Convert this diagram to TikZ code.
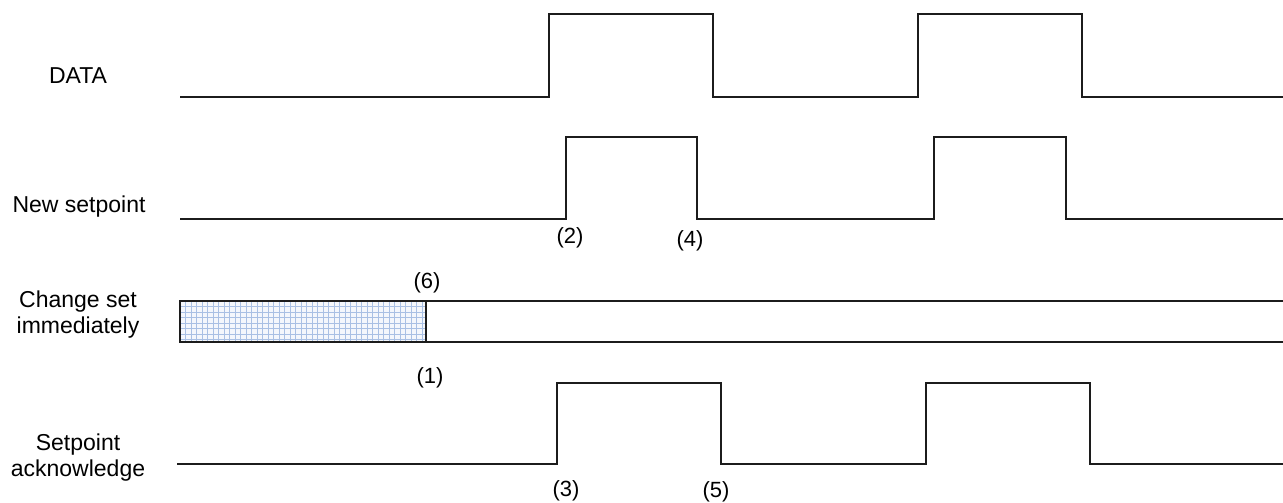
\documentclass[tikz,border=0pt]{standalone}
\usepackage{fontspec}
\setmainfont{Liberation Sans}
\usepackage{xcolor}
\usetikzlibrary{positioning}
\definecolor{traco}{HTML}{1C1C1C}
\definecolor{grelha}{HTML}{A9C0E4}
\definecolor{fundo}{HTML}{F4F7FC}
\tikzset{
  sinal/.style={draw=traco, line width=1.3pt, line join=miter},
  caixa/.style={draw=traco, line width=1.3pt},
  rotulo/.style={font=\fontsize{23}{26}\selectfont, align=center, inner sep=0pt},
  marca/.style={font=\fontsize{22}{24}\selectfont, inner sep=0pt},
  linhagrelha/.style={draw=grelha, line width=0.7pt},
}

\begin{document}
\begin{tikzpicture}[x=1pt, y=-1pt]
  \useasboundingbox (0,0) rectangle (1283,503);
  % nomes dos sinais
  \node[rotulo] (sdata) at (78,76) {DATA};
  \node[rotulo] (snovo) at (79,207) {New setpoint};
  \node[rotulo] (smuda) at (78,315) {Change set\\immediately};
  \node[rotulo] (sconf) at (78,458) {Setpoint\\acknowledge};
  % DATA
  \draw[sinal] (180,97) -- (549,97) |- (713,14) |- (918,97) |- (1082,14) |- (1283,97);
  % New setpoint
  \draw[sinal] (180,219) -- (566,219) |- (697,137) |- (934,219) |- (1066,137) |- (1283,219);
  % Change set immediately
  \fill[fundo] (180,301) rectangle (426,342);
  \foreach \gx in {185.5,191,...,424} \draw[linhagrelha] (\gx,301) -- (\gx,342);
  \foreach \gy in {306.5,312,...,340} \draw[linhagrelha] (180,\gy) -- (426,\gy);
  \draw[caixa] (1283,301) -- (180,301) -- (180,342) -- (1283,342);
  \draw[caixa] (426,301) -- (426,342);
  % Setpoint acknowledge
  \draw[sinal] (177,464) -- (557,464) |- (721,383) |- (926,464) |- (1090,383) |- (1283,464);
  % marcas
  \node[marca] (m6) at (427,283) {(6)};
  \node[marca] (m1) at (430,378) {(1)};
  \node[marca] (m2) at (570,238) {(2)};
  \node[marca] (m4) at (690,241) {(4)};
  \node[marca] (m3) at (566,491) {(3)};
  \node[marca] (m5) at (716,492) {(5)};
\end{tikzpicture}
\end{document}
